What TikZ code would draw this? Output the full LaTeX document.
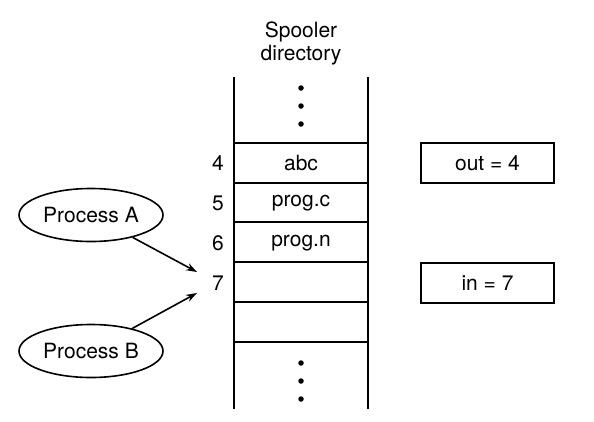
\documentclass[tikz,border=0pt]{standalone}
\usepackage{fontspec}
\setmainfont{TeX Gyre Heros}
\usetikzlibrary{arrows.meta,shapes.geometric}
\begin{document}
\begin{tikzpicture}[x=1pt,y=-1pt,line width=1.6pt,
	every node/.style={font=\fontsize{21}{23}\selectfont},
	procnode/.style={draw,ellipse,minimum width=144,minimum height=53,inner sep=0pt},
	varbox/.style={draw,minimum width=133,minimum height=40,inner sep=0pt},
	dotmark/.style={fill,circle,inner sep=0pt,minimum size=5.5}]
	\useasboundingbox (0,0) rectangle (594,421);
	% directory walls
	\draw (234,77) -- (234,409);
	\draw (368,77) -- (368,409);
	\foreach \y in {143,183,222,262,302,342}
		\draw (234,\y) -- (368,\y);
	\node[align=center] (title) at (301,43) {Spooler\\directory};
	% dots
	\foreach \y [count=\i] in {88,106,124}
		\node[dotmark] (dtop\i) at (301,\y) {};
	\foreach \y [count=\i] in {363,381,399}
		\node[dotmark] (dbot\i) at (301,\y) {};
	% slot numbers and entries
	\node (n4) at (218,163) {4};
	\node (n5) at (218,203) {5};
	\node (n6) at (218,243) {6};
	\node (n7) at (218,283) {7};
	\node (abc) at (301,163) {abc};
	\node (progc) at (301,203) {prog.c};
	\node (progn) at (301,243) {prog.n};
	% variables
	\node[varbox] (out) at (487.5,163) {out = 4};
	\node[varbox] (in) at (487.5,283) {in = 7};
	% processes
	\node[procnode] (pa) at (91,215) {Process A};
	\node[procnode] (pb) at (91,351) {Process B};
	\coordinate (tipa) at (197,272);
	\coordinate (tipb) at (197,293);
	\draw[-{Stealth[length=11pt,width=7.5pt]}] (pa) -- (tipa);
	\draw[-{Stealth[length=11pt,width=7.5pt]}] (pb) -- (tipb);
\end{tikzpicture}
\end{document}
